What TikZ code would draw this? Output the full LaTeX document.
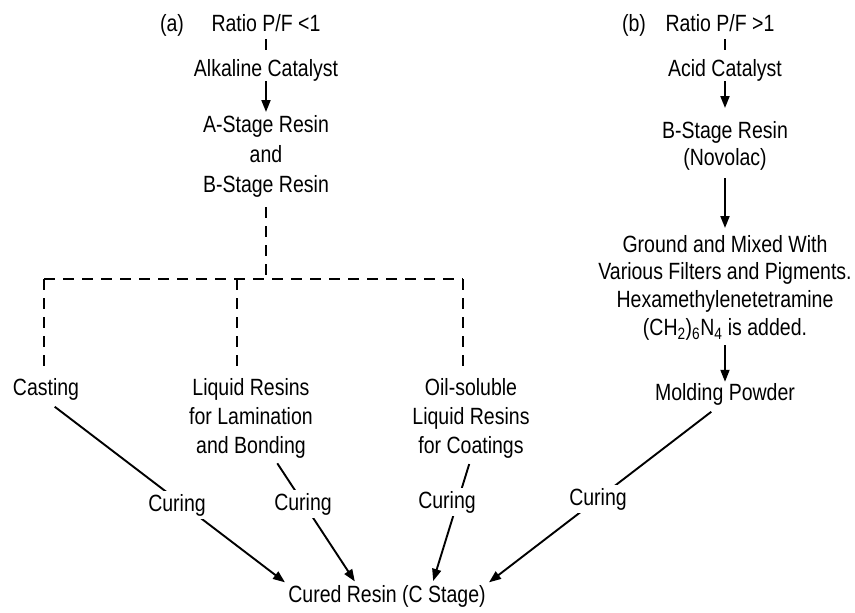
\documentclass[tikz,border=0pt]{standalone}
\usepackage{fontspec}
\setmainfont{Liberation Sans}[FakeStretch=0.83]
\usetikzlibrary{arrows.meta}
\newcommand{\fsz}[1]{\fontsize{23.5}{#1}\selectfont}
\begin{document}
\begin{tikzpicture}[x=1pt,y=-1pt,
  lbl/.style={inner sep=0pt, anchor=base, font=\fsz{28}},
  grp/.style={inner sep=0pt, anchor=north, align=center},
  dsh/.style={line width=1.9pt, dash pattern=on 11pt off 8pt},
  arr/.style={line width=1.9pt, -{Triangle[length=12pt,width=9pt]}},
  cur/.style={fill=white, inner sep=3pt, anchor=base, font=\fsz{28}}]
\useasboundingbox (0,0) rectangle (855,613);
% left branch
\node[lbl] (tagA) at (172,31) {(a)};
\node[lbl] (ratioA) at (266,31) {Ratio P/F <1};
\node[lbl] (alk) at (266,76) {Alkaline Catalyst};
\node[grp, font=\fsz{30}] (stA) at (266,115) {A-Stage Resin\\and\\B-Stage Resin};
\node[lbl] (cast) at (46,395) {Casting};
\node[grp, font=\fsz{29}] (liq) at (251,378) {Liquid Resins\\for Lamination\\and Bonding};
\node[grp, font=\fsz{29}] (oil) at (471,378) {Oil-soluble\\Liquid Resins\\for Coatings};
% right branch
\node[lbl] (tagB) at (634,31) {(b)};
\node[lbl] (ratioB) at (720,31) {Ratio P/F >1};
\node[lbl] (acid) at (725,76) {Acid Catalyst};
\node[grp, font=\fsz{27}] (stB) at (725,121) {B-Stage Resin\\(Novolac)};
\node[grp, font=\fsz{27.7}] (mix) at (725,235) {Ground and Mixed With\\Various Filters and Pigments.\\Hexamethylenetetramine\\(CH\textsubscript{2})\textsubscript{6}N\textsubscript{4} is added.};
\node[lbl] (mold) at (725,400) {Molding Powder};
\node[lbl] (cured) at (387,602) {Cured Resin (C Stage)};
% junction points
\coordinate (jn) at (266,279);
\coordinate (cl) at (44,279);
\coordinate (cm) at (237,279);
\coordinate (cr) at (463,279);
% left connectors
\draw[dsh, shorten <=8pt, shorten >=6pt] (ratioA.south) -- (alk.north);
\draw[arr, shorten >=3pt] (alk.south) -- (stA.north);
\draw[dsh, shorten <=10pt] (stA.south) -- (jn);
\draw[dsh] (cl) -- (cr);
\draw[dsh, shorten >=8pt] (cl) -- (cl |- cast.north);
\draw[dsh, shorten >=8pt] (cm) -- (cm |- liq.north);
\draw[dsh, shorten >=8pt] (cr) -- (cr |- oil.north);
% right connectors
\draw[dsh, shorten <=8pt, shorten >=6pt] (acid.north |- ratioB.south) -- (acid.north);
\draw[arr, shorten >=13pt] (acid.south) -- (stB.north);
\draw[arr, shorten <=8pt, shorten >=7pt] (stB.south) -- (mix.north);
\draw[arr, shorten <=5pt, shorten >=1pt] (mix.south) -- (mold.north);
% curing connectors
\draw[arr, shorten <=11pt, shorten >=4pt] (cast.south) -- (cured.north west);
\draw[arr, shorten <=6pt, shorten >=4pt] ([xshift=23pt]liq.south) -- ([xshift=-30pt]cured.north);
\draw[arr, shorten <=6pt, shorten >=4pt] (oil.south) -- ([xshift=45pt]cured.north);
\draw[arr, shorten <=11pt, shorten >=4pt] ([xshift=-5pt]mold.south) -- (cured.north east);
\node[cur] (c1) at (177,511) {Curing};
\node[cur] (c2) at (303,510) {Curing};
\node[cur] (c3) at (447,508) {Curing};
\node[cur] (c4) at (598,505) {Curing};
\end{tikzpicture}
\end{document}
